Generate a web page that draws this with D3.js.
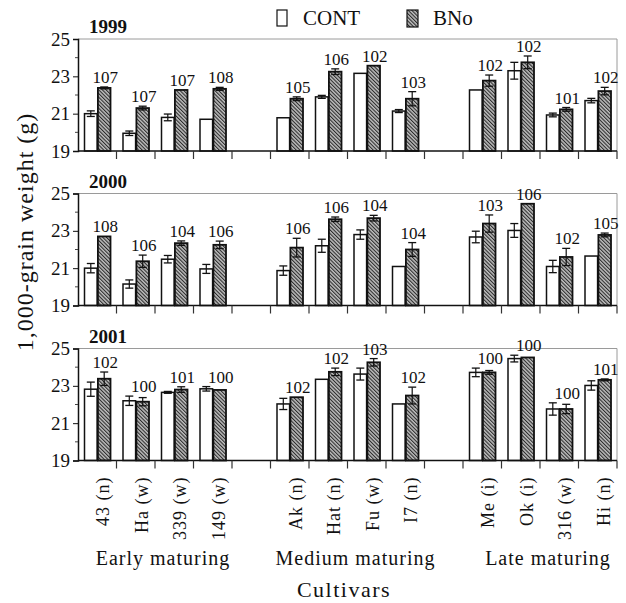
<!DOCTYPE html>
<html>
<head>
<meta charset="utf-8">
<script src="https://cdn.jsdelivr.net/npm/d3@7"></script>
<style>
  body { margin: 0; background: #fff; }
  svg text { font-family: "Liberation Serif", "Times New Roman", serif; fill: #111; }
</style>
</head>
<body>
<div id="chart"></div>
<script>
// cultivars, groups, years
const cultivars = ["43 (n)", "Ha (w)", "339 (w)", "149 (w)", "Ak (n)", "Hat (n)", "Fu (w)", "I7 (n)", "Me (i)", "Ok (i)", "316 (w)", "Hi (n)"];
const groups = ["Early maturing", "Medium maturing", "Late maturing"];
const years = ["1999", "2000", "2001"];

// 1,000-grain weight (g)
const cont1999 = [21.0, 19.95, 20.8, 20.7, 20.78, 21.9, 23.16, 21.14, 22.27, 23.3, 20.93, 21.7];
const contErr1999 = [0.15, 0.12, 0.18, 0, 0, 0.08, 0, 0.08, 0, 0.45, 0.1, 0.12];
const bno1999 = [22.38, 21.3, 22.27, 22.33, 21.8, 23.25, 23.57, 21.8, 22.77, 23.75, 21.23, 22.21];
const bnoErr1999 = [0.05, 0.1, 0, 0.08, 0.1, 0.15, 0, 0.38, 0.3, 0.34, 0.1, 0.2];
const ratio1999 = [107, 107, 107, 108, 105, 106, 102, 103, 102, 102, 101, 102];

const cont2000 = [21.0, 20.15, 21.48, 20.96, 20.87, 22.2, 22.8, 21.09, 22.67, 23.02, 21.09, 21.65];
const contErr2000 = [0.25, 0.22, 0.2, 0.24, 0.25, 0.35, 0.25, 0, 0.31, 0.37, 0.33, 0];
const bno2000 = [22.7, 21.37, 22.34, 22.25, 22.1, 23.62, 23.68, 22.0, 23.39, 24.45, 21.6, 22.78];
const bnoErr2000 = [0, 0.33, 0.12, 0.2, 0.5, 0.12, 0.15, 0.37, 0.46, 0, 0.46, 0.1];
const ratio2000 = [108, 106, 104, 106, 106, 106, 104, 104, 103, 106, 102, 105];

const cont2001 = [22.82, 22.2, 22.65, 22.84, 22.03, 23.35, 23.63, 22.03, 23.72, 24.46, 21.76, 23.02];
const contErr2001 = [0.38, 0.25, 0.05, 0.12, 0.3, 0, 0.32, 0, 0.23, 0.18, 0.33, 0.25];
const bno2001 = [23.38, 22.15, 22.8, 22.78, 22.39, 23.75, 24.26, 22.48, 23.72, 24.52, 21.76, 23.32];
const bnoErr2001 = [0.36, 0.22, 0.15, 0, 0, 0.2, 0.2, 0.45, 0.1, 0, 0.25, 0.05];
const ratio2001 = [102, 100, 101, 100, 102, 102, 103, 102, 100, 100, 100, 101];

const yTicks = [19, 21, 23, 25];
const yMinor = [20, 22, 24];

const panels = [
  { year: years[0], cont: cont1999, ce: contErr1999, bno: bno1999, be: bnoErr1999, ratio: ratio1999 },
  { year: years[1], cont: cont2000, ce: contErr2000, bno: bno2000, be: bnoErr2000, ratio: ratio2000 },
  { year: years[2], cont: cont2001, ce: contErr2001, bno: bno2001, be: bnoErr2001, ratio: ratio2001 },
];

const width = 626, height = 603;
const left = 78, right = 617;
const panelTop = [39, 193.5, 348.5];
const panelH = 112;

const svg = d3.select("#chart").append("svg")
  .attr("width", width).attr("height", height);

// hatch pattern for BNo
const defs = svg.append("defs");
const pat = defs.append("pattern")
  .attr("id", "hatch")
  .attr("patternUnits", "userSpaceOnUse")
  .attr("width", 2.6).attr("height", 2.6)
  .attr("patternTransform", "rotate(-45)");
pat.append("rect").attr("width", 2.6).attr("height", 2.6).attr("fill", "#bdbdbd");
pat.append("line").attr("x1", 0.5).attr("y1", 0).attr("x2", 0.5).attr("y2", 2.6)
  .attr("stroke", "#2a2a2a").attr("stroke-width", 1.1);

// slots: 4 cultivars, gap, 4, gap, 4
const slots = [];
cultivars.forEach((c, i) => {
  if (i > 0 && i % 4 === 0) slots.push("gap" + i);
  slots.push(c);
});

const x = d3.scaleBand().domain(slots).range([left, right]).padding(0);
const xInner = d3.scaleBand().domain(["CONT", "BNo"]).range([6.5, 32.5]).paddingInner(0.06);

panels.forEach((p, k) => {
  const top = panelTop[k];
  const y = d3.scaleLinear().domain([19, 25]).range([top + panelH, top]);
  const g = svg.append("g");

  // light frame top / right
  g.append("path")
    .attr("d", `M${left},${top}H${right}V${top + panelH}`)
    .attr("fill", "none").attr("stroke", "#9a9a9a").attr("stroke-width", 1);

  // bars
  const rows = cultivars.map((c, i) => ({
    c, cont: p.cont[i], ce: p.ce[i], bno: p.bno[i], be: p.be[i], ratio: p.ratio[i]
  }));

  const cg = g.selectAll("g.cv").data(rows).join("g")
    .attr("class", "cv")
    .attr("transform", d => `translate(${x(d.c)},0)`);

  cg.append("rect")
    .attr("x", xInner("CONT")).attr("width", xInner.bandwidth())
    .attr("y", d => y(d.cont)).attr("height", d => y(19) - y(d.cont))
    .attr("fill", "#fff").attr("stroke", "#111").attr("stroke-width", 1.5);

  cg.append("rect")
    .attr("x", xInner("BNo")).attr("width", xInner.bandwidth())
    .attr("y", d => y(d.bno)).attr("height", d => y(19) - y(d.bno))
    .attr("fill", "url(#hatch)").attr("stroke", "#111").attr("stroke-width", 1.8);

  // error bars
  const errs = [];
  rows.forEach(d => {
    errs.push({ c: d.c, s: "CONT", v: d.cont, e: d.ce });
    errs.push({ c: d.c, s: "BNo", v: d.bno, e: d.be });
  });
  const eg = g.selectAll("g.err").data(errs.filter(d => d.e > 0)).join("g")
    .attr("class", "err")
    .attr("transform", d => `translate(${x(d.c) + xInner(d.s) + xInner.bandwidth() / 2},0)`);
  eg.append("line").attr("y1", d => y(d.v - d.e)).attr("y2", d => y(d.v + d.e))
    .attr("stroke", "#111").attr("stroke-width", 1.2);
  eg.append("line").attr("x1", -4).attr("x2", 4)
    .attr("y1", d => y(d.v + d.e)).attr("y2", d => y(d.v + d.e))
    .attr("stroke", "#111").attr("stroke-width", 1.3);
  eg.append("line").attr("x1", -4).attr("x2", 4)
    .attr("y1", d => y(d.v - d.e)).attr("y2", d => y(d.v - d.e))
    .attr("stroke", "#111").attr("stroke-width", 1.3);

  // ratio labels
  cg.append("text")
    .attr("x", xInner("BNo") + xInner.bandwidth() / 2 + 1)
    .attr("y", d => y(Math.max(d.cont + d.ce, d.bno + d.be)) - 4)
    .attr("text-anchor", "middle")
    .attr("font-size", "17px")
    .text(d => d.ratio);

  // y axis
  const ax = g.append("g")
    .attr("transform", `translate(${left},0)`)
    .call(d3.axisLeft(y).tickValues(yTicks).tickSize(5).tickPadding(3).tickFormat(d3.format("d")));
  ax.select(".domain").attr("stroke", "#111").attr("stroke-width", 1.5);
  ax.selectAll(".tick line").attr("stroke", "#111");
  ax.selectAll(".tick text").attr("font-size", "19px").attr("fill", "#111");
  g.selectAll("line.minor").data(yMinor).join("line")
    .attr("class", "minor")
    .attr("x1", left - 3).attr("x2", left)
    .attr("y1", d => y(d)).attr("y2", d => y(d))
    .attr("stroke", "#444");

  // x baseline and slot ticks
  g.append("line")
    .attr("x1", left).attr("x2", right)
    .attr("y1", y(19)).attr("y2", y(19))
    .attr("stroke", "#111").attr("stroke-width", 1.5);
  g.selectAll("line.xt").data(d3.range(1, slots.length + 1)).join("line")
    .attr("class", "xt")
    .attr("x1", i => x.range()[0] + i * x.step())
    .attr("x2", i => x.range()[0] + i * x.step())
    .attr("y1", y(19)).attr("y2", y(19) + 8)
    .attr("stroke", "#333").attr("stroke-width", 1.2);

  // year title
  g.append("text")
    .attr("x", 89).attr("y", top - 6)
    .attr("font-size", "19px").attr("font-weight", "bold")
    .text(p.year);
});

// cultivar labels (bottom)
const yBottom = panelTop[2] + panelH;
svg.selectAll("text.cv").data(cultivars).join("text")
  .attr("class", "cv")
  .attr("transform", d => `translate(${x(d) + x.bandwidth() / 2 + 12},${yBottom + 16}) rotate(-90)`)
  .attr("text-anchor", "end")
  .attr("font-size", "18px")
  .attr("letter-spacing", "1px")
  .text(d => d);

// group labels
svg.selectAll("text.grp").data(groups).join("text")
  .attr("class", "grp")
  .attr("x", (d, i) => {
    const a = x(cultivars[i * 4]);
    const b = x(cultivars[i * 4 + 3]) + x.bandwidth();
    return (a + b) / 2 + 8;
  })
  .attr("y", 565)
  .attr("text-anchor", "middle")
  .attr("font-size", "20px")
  .attr("letter-spacing", "1px")
  .text(d => d);

svg.append("text")
  .attr("x", 344).attr("y", 597)
  .attr("text-anchor", "middle")
  .attr("font-size", "22px")
  .attr("letter-spacing", "1.5px")
  .text("Cultivars");

// y title
svg.append("text")
  .attr("transform", "translate(33,232) rotate(-90)")
  .attr("text-anchor", "middle")
  .attr("font-size", "24px")
  .attr("letter-spacing", "1px")
  .text("1,000-grain weight (g)");

// legend
const legend = svg.append("g");
legend.append("rect").attr("x", 277).attr("y", 10).attr("width", 10).attr("height", 16)
  .attr("fill", "#fff").attr("stroke", "#111").attr("stroke-width", 1.2);
legend.append("text").attr("x", 303).attr("y", 25).attr("font-size", "21px").text("CONT");
legend.append("rect").attr("x", 407).attr("y", 10).attr("width", 11).attr("height", 17)
  .attr("fill", "url(#hatch)").attr("stroke", "#111").attr("stroke-width", 1.2);
legend.append("text").attr("x", 433).attr("y", 25).attr("font-size", "21px").text("BNo");
</script>
</body>
</html>
